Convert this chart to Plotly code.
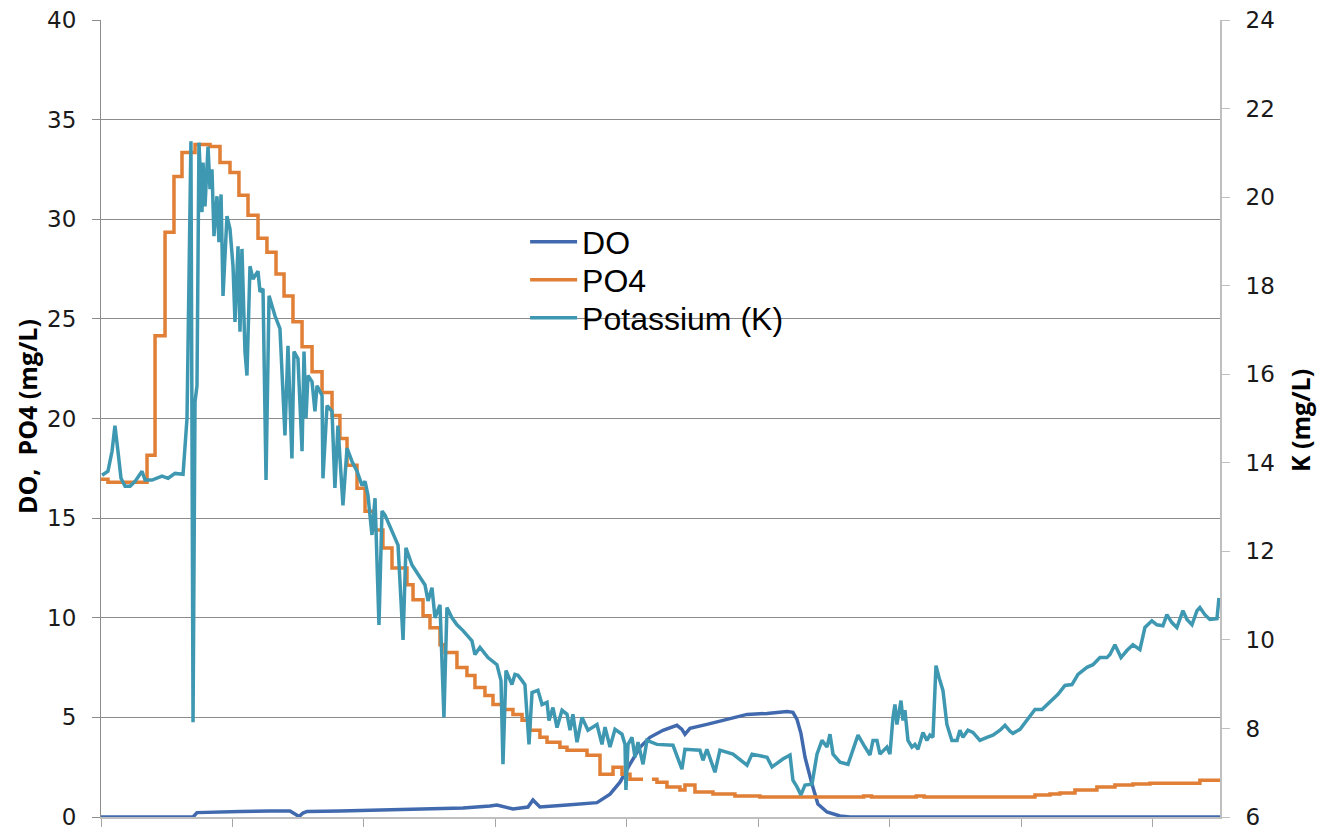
import plotly.graph_objects as go

# ---------------- data ----------------
# time axis: arbitrary units, tick every 10 (no labels in the original)
do_t = [0, 7.0, 7.3, 8.29, 10.57, 12.85, 14.37, 14.75, 15.06, 15.36, 15.67, 18.17, 21.14,
        24.33, 27.53, 29.58, 30.11, 31.33, 32.47, 32.85, 33.38, 35.44, 37.72, 38.71, 39.47,
        40.23, 40.99, 41.75, 42.74, 43.80, 44.18, 44.41, 44.79, 46.08, 47.60, 49.13, 50.65,
        52.17, 52.62, 52.93, 53.23, 53.54, 54.07, 54.52, 55.21, 56.20, 56.96, 85.1]
do_v = [0, 0, 0.22, 0.25, 0.28, 0.3, 0.3, 0.15, 0.02, 0.2, 0.28, 0.3, 0.35,
        0.4, 0.45, 0.55, 0.6, 0.4, 0.5, 0.85, 0.5, 0.6, 0.72, 1.15, 1.75,
        2.65, 3.5, 4.0, 4.35, 4.6, 4.4, 4.15, 4.45, 4.65, 4.9, 5.15, 5.2,
        5.3, 5.25, 4.9, 4.2, 3.0, 1.65, 0.65, 0.25, 0.05, 0, 0]

po4_t = [0, 0.53, 3.50, 4.11, 4.87, 5.55, 6.16, 7.15, 8.29, 9.05, 9.81, 10.49, 11.18, 11.94,
         12.62, 13.31, 13.92, 14.60, 15.29, 16.05, 16.81, 17.57, 18.17, 18.71, 19.47, 20.08,
         20.84, 21.44, 22.13, 23.27, 23.73, 24.49, 25.02, 25.78, 26.16, 27.07, 27.83, 28.44,
         29.20, 29.81, 30.57, 31.33, 32.02, 32.62, 33.38, 33.92, 34.90, 35.44, 36.96, 37.95,
         38.94, 39.62, 40.23, 41.22, 41.5, 41.90, 42.28, 43.04, 44.03, 44.41, 45.17, 46.54,
         48.21, 50.11, 58.0, 58.6, 62.0, 62.6, 70.11, 71.03, 72.17, 72.93, 74.07, 75.74,
         77.11, 78.48, 79.77, 83.57, 85.1]
po4_v = [16.95, 16.8, 18.15, 24.15, 29.35, 32.15, 33.35, 33.75, 33.65, 32.85, 32.35, 31.2, 30.2, 29.05,
         28.35, 27.25, 26.15, 24.85, 23.6, 22.35, 21.3, 20.15, 19.0, 17.65, 16.5, 15.35,
         14.4, 13.5, 12.5, 11.65, 10.9, 10.1, 9.5, 8.65, 8.25, 7.5, 7.1, 6.5,
         6.1, 5.65, 5.4, 5.15, 4.85, 4.35, 4.0, 3.75, 3.5, 3.35, 3.1, 2.15,
         2.5, 2.15, 1.9, 1.9, None, 1.9, 1.75, 1.5, 1.35, 1.6, 1.25, 1.15,
         1.05, 1.0, 1.05, 1.0, 1.05, 1.0, 1.0, 1.1, 1.15, 1.2, 1.35, 1.5,
         1.6, 1.65, 1.7, 1.85, 1.85]

k_t = [0.08, 0.53, 0.84, 1.06, 1.29, 1.52, 1.83, 2.21, 2.59, 3.12, 3.35, 3.88, 4.64, 5.10, 5.63,
       6.24, 6.54, 6.84, 7.00, 7.15, 7.30, 7.45, 7.68, 7.76, 7.91, 8.14, 8.29, 8.44, 8.59, 8.82,
       8.97, 9.13, 9.28, 9.58, 9.81, 10.04, 10.19, 10.42, 10.57, 10.72, 10.95, 11.10, 11.33, 11.56,
       11.94, 12.09, 12.32, 12.55, 12.78, 13.23, 13.61, 13.99, 14.22, 14.52, 14.68, 14.98, 15.29,
       15.44, 15.59, 15.74, 16.05, 16.27, 16.43, 16.81, 16.88, 17.19, 17.57, 17.79, 18.02, 18.40,
       18.71, 19.09, 19.47, 19.85, 20.08, 20.30, 20.61, 20.84, 21.14, 21.37, 21.60, 22.13, 22.59,
       22.97, 23.19, 23.65, 24.11, 24.64, 24.87, 25.17, 25.40, 25.78, 26.08, 26.31, 26.69, 27.07,
       27.53, 28.21, 28.44, 28.82, 29.43, 30.11, 30.42, 30.57, 30.80, 31.25, 31.48, 31.71, 32.02,
       32.24, 32.55, 32.78, 33.23, 33.54, 33.92, 34.07, 34.37, 34.68, 35.06, 35.44, 35.67, 35.89,
       36.20, 36.58, 37.03, 37.72, 38.10, 38.33, 38.71, 39.09, 39.62, 39.85, 39.92, 40.08, 40.38,
       40.61, 40.84, 41.22, 41.52, 42.28, 43.50, 44.18, 44.41, 45.55, 45.78, 46.08, 46.69, 47.07,
       48.06, 49.13, 49.51, 50.65, 51.03, 51.86, 52.40, 52.62, 52.93, 53.23, 53.54, 54.07, 54.45,
       54.83, 55.21, 55.44, 55.67, 56.20, 56.81, 57.19, 57.57, 58.10, 58.48, 58.71, 59.01, 59.24,
       59.77, 60.00, 60.23, 60.38, 60.53, 60.84, 60.99, 61.14, 61.37, 61.67, 61.90, 62.13, 62.51,
       62.81, 63.04, 63.27, 63.50, 63.73, 64.03, 64.33, 64.71, 65.10, 65.32, 65.55, 65.93, 66.31,
       66.84, 67.38, 67.83, 68.37, 68.75, 69.13, 69.35, 69.89, 70.42, 71.03, 71.56, 72.17, 72.78,
       73.31, 73.84, 74.30, 74.98, 75.44, 75.97, 76.50, 76.73, 77.11, 77.57, 78.02, 78.48, 79.01,
       79.39, 79.92, 80.30, 80.76, 81.06, 81.44, 81.82, 82.28, 82.59, 82.97, 83.35, 83.57, 83.95,
       84.33, 84.87, 85.02]
k_v = [13.72, 13.81, 14.26, 14.84, 14.26, 13.65, 13.47, 13.47, 13.58, 13.81, 13.61, 13.61, 13.70, 13.65, 13.76,
       13.74, 15.0, 21.26, 8.14, 15.38, 15.74, 21.23, 19.66, 20.78, 19.79, 21.14, 20.18, 20.63, 19.12, 20.02,
       18.98, 20.06, 17.77, 19.57, 19.28, 18.44, 17.18, 18.89, 16.96, 18.83, 16.51, 15.97, 18.44, 18.15,
       18.33, 17.86, 17.93, 13.61, 17.77, 17.32, 17.03, 14.62, 16.64, 14.10, 16.51, 16.35, 14.26,
       16.51, 15.0, 15.97, 15.83, 15.16, 15.74, 15.52, 13.65, 15.29, 15.16, 13.43, 14.84, 13.04,
       14.33, 14.03, 13.81, 13.49, 13.58, 13.27, 12.37, 13.2, 10.34, 12.91, 12.82, 12.46, 12.14,
       10.0, 12.08, 11.69, 11.47, 11.24, 10.88, 11.18, 10.5, 10.79, 8.25, 10.73, 10.5, 10.34,
       10.21, 9.98, 9.67, 9.83, 9.6, 9.44, 9.08, 7.19, 9.31, 8.99, 9.22, 9.2, 9.08,
       8.99, 7.64, 8.81, 8.86, 8.54, 8.59, 8.18, 8.47, 8.02, 8.41, 8.32, 7.96, 8.32,
       7.69, 8.25, 7.96, 8.09, 7.64, 8.03, 7.58, 7.98, 7.87, 7.64, 6.61, 7.64, 7.8,
       7.35, 7.69, 7.19, 7.73, 7.64, 7.62, 7.08, 7.53, 7.51, 7.28, 7.53, 7.01, 7.51,
       7.42, 7.17, 7.42, 7.35, 7.13, 7.31, 7.40, 6.83, 6.68, 6.5, 6.72, 6.74, 7.42,
       7.73, 7.58, 7.87, 7.42, 7.24, 7.19, 7.51, 7.85, 7.58, 7.40, 7.73, 7.73, 7.42,
       7.58, 7.42, 8.25, 8.54, 8.09, 8.63, 8.18, 8.41, 7.73, 7.58, 7.64, 7.53, 7.91,
       7.73, 7.85, 7.8, 9.42, 9.15, 8.86, 8.09, 7.73, 7.73, 7.96, 7.80, 7.96, 7.91,
       7.73, 7.80, 7.85, 7.96, 8.07, 7.94, 7.89, 7.98, 8.18, 8.43, 8.43, 8.59, 8.77,
       8.97, 8.99, 9.22, 9.38, 9.44, 9.6, 9.6, 9.67, 9.89, 9.6, 9.76, 9.89, 9.78,
       10.28, 10.43, 10.34, 10.32, 10.57, 10.39, 10.28, 10.66, 10.46, 10.34, 10.66, 10.73, 10.57,
       10.46, 10.48, 10.95]

x_ticks = [0, 10, 20, 30, 40, 50, 60, 70, 80]

# ---------------- figure ----------------
C_DO, C_PO4, C_K = "#4169AE", "#E07F35", "#3F98B1"
NUM_FONT = dict(family="DejaVu Sans", size=23, color="#1a1a1a")
LEG_FONT = dict(family="Liberation Sans", size=32, color="#000000")
TITLE_FONT = dict(family="Open Sans", size=25, color="#000000")

fig = go.Figure()
fig.add_trace(go.Scatter(x=do_t, y=do_v, name="DO", mode="lines", legend="legend",
                         line=dict(color=C_DO, width=3.5)))
fig.add_trace(go.Scatter(x=po4_t, y=po4_v, name="PO4", mode="lines", connectgaps=False,
                         legend="legend2", line=dict(color=C_PO4, width=3.5, shape="hv")))
fig.add_trace(go.Scatter(x=k_t, y=k_v, name="Potassium (K)", mode="lines", yaxis="y2",
                         legend="legend3", line=dict(color=C_K, width=3.5)))

# plot area: x 101..1220 px, y 20..817 px
TOP, BOTTOM = 20, 817
def py(p):
    return (BOTTOM - p) / float(BOTTOM - TOP)

def legend_at(ycenter):
    return dict(x=0.379, y=py(ycenter), xanchor="left", yanchor="middle",
                bgcolor="rgba(0,0,0,0)", borderwidth=0, font=LEG_FONT, itemwidth=47)

fig.update_layout(
    width=1318, height=832,
    margin=dict(l=101, r=98, t=TOP, b=832 - BOTTOM, autoexpand=False),
    paper_bgcolor="white", plot_bgcolor="white",
    showlegend=True,
    legend=legend_at(242), legend2=legend_at(280), legend3=legend_at(318),
    xaxis=dict(range=[0, 85.1], tickvals=x_ticks, ticks="outside", ticklen=8,
               tickcolor="#a6a6a6", showticklabels=False, showgrid=False, automargin=False,
               showline=True, linecolor="#bfbfbf", linewidth=1.5, zeroline=False),
    yaxis=dict(range=[0, 40], dtick=5, showgrid=True, gridcolor="#8c8c8c", gridwidth=1,
               ticks="outside", ticklen=8, tickcolor="#8c8c8c", showline=True, automargin=False,
               linecolor="#8c8c8c", linewidth=1, zeroline=False, tickfont=NUM_FONT,
               ticklabelstandoff=11, ticklabeloverflow="allow"),
    yaxis2=dict(range=[6, 24], dtick=2, overlaying="y", side="right", showgrid=False,
                ticks="outside", ticklen=8, tickcolor="#bfbfbf", showline=True, automargin=False,
                linecolor="#bfbfbf", linewidth=2, zeroline=False, tickfont=NUM_FONT,
                ticklabelstandoff=11, ticklabeloverflow="allow"),
    shapes=[dict(type="rect", xref="paper", yref="paper", x0=0.4147, x1=0.631,
                 y0=py(340), y1=py(205), fillcolor="white", line=dict(width=0), layer="between")],
    annotations=[
        dict(text="<b>DO,  PO4 (mg/L)</b>", xref="paper", yref="paper", x=-0.0661, y=py(417),
             xanchor="center", yanchor="middle",
             textangle=-90, showarrow=False, font=TITLE_FONT),
        dict(text="<b>K (mg/L)</b>", xref="paper", yref="paper", x=1.0715, y=py(421),
             xanchor="center", yanchor="middle",
             textangle=-90, showarrow=False, font=TITLE_FONT),
    ],
)

# remove the browser's default 8 px page margin so the figure fills the window exactly
fig.write_html("out.html", config={"displayModeBar": False},
               post_script="document.body.style.margin='0px';")
